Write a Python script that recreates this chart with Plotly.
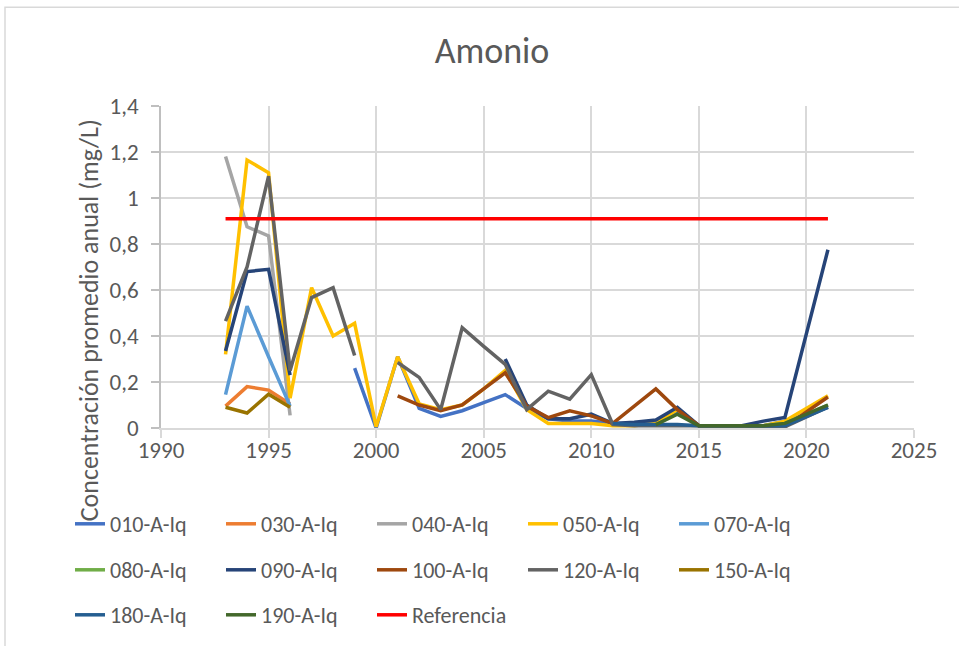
import plotly.graph_objects as go

# Sampling years (no campaign in 2020)
years = [1993, 1994, 1995, 1996, 1997, 1998, 1999, 2000, 2001, 2002,
         2003, 2004, 2005, 2006, 2007, 2008, 2009, 2010, 2011, 2012,
         2013, 2014, 2015, 2016, 2017, 2018, 2019, 2021]

N = None
s010 = [N, N, N, N, N, N, 0.26, 0.0, 0.31, 0.085,
        0.05, 0.075, 0.11, 0.145, 0.085, 0.04, 0.03, 0.03, 0.02, 0.02,
        0.02, 0.07, 0.01, 0.01, 0.01, 0.01, 0.03, 0.09]
s030 = [0.095, 0.18, 0.165, 0.105] + [N] * 24
s040 = [1.18, 0.875, 0.835, 0.055] + [N] * 24
s050 = [0.32, 1.165, 1.11, 0.13, 0.61, 0.40, 0.455, 0.005, 0.31, 0.105,
        0.08, 0.10, 0.17, 0.25, 0.08, 0.02, 0.02, 0.02, 0.01, 0.01,
        0.02, 0.08, 0.01, 0.01, 0.01, 0.01, 0.03, 0.14]
s070 = [0.145, 0.53, 0.31, 0.095] + [N] * 24
s080 = [N] * 25 + [0.01, 0.02, 0.10]
s090 = [0.335, 0.68, 0.69, 0.23, N, N, N, N, N, N,
        N, N, N, 0.30, 0.10, 0.04, 0.04, 0.06, 0.02, 0.025,
        0.035, 0.09, 0.01, 0.01, 0.01, 0.03, 0.046, 0.775]
s100 = [N, N, N, N, N, N, N, N, 0.14, 0.10,
        0.075, 0.10, 0.17, 0.24, 0.095, 0.045, 0.075, 0.053, 0.02, 0.095,
        0.17, 0.08, 0.01, 0.01, 0.01, 0.005, 0.005, 0.135]
s120 = [0.465, 0.70, 1.095, 0.25, 0.567, 0.61, 0.315, N, 0.285, 0.22,
        0.08, 0.436, 0.355, 0.277, 0.08, 0.16, 0.125, 0.232, 0.015, 0.01,
        0.01, 0.01, 0.01, 0.01, 0.01, 0.005, 0.005, 0.092]
s150 = [0.09, 0.065, 0.147, 0.09] + [N] * 24
s180 = [N] * 18 + [0.02, 0.015, 0.015, 0.015, 0.01, 0.01, 0.01, 0.01, 0.01, 0.09]
s190 = [N] * 20 + [0.015, 0.06, 0.01, 0.01, 0.01, 0.01, 0.02, 0.10]

ref_years = [1993, 2021]
ref_values = [0.91, 0.91]

series = [
    ("010-A-Iq", s010, "#4472C4", "legend"),
    ("030-A-Iq", s030, "#ED7D31", "legend"),
    ("040-A-Iq", s040, "#A5A5A5", "legend"),
    ("050-A-Iq", s050, "#FFC000", "legend"),
    ("070-A-Iq", s070, "#5B9BD5", "legend"),
    ("080-A-Iq", s080, "#70AD47", "legend2"),
    ("090-A-Iq", s090, "#264478", "legend2"),
    ("100-A-Iq", s100, "#9E480E", "legend2"),
    ("120-A-Iq", s120, "#636363", "legend2"),
    ("150-A-Iq", s150, "#997300", "legend2"),
    ("180-A-Iq", s180, "#255E91", "legend3"),
    ("190-A-Iq", s190, "#43682B", "legend3"),
]

FONT = "Carlito, Lato, sans-serif"
GREY_TXT = "#595959"
GRID = "#D9D9D9"

fig = go.Figure()
for name, vals, color, lg in series:
    fig.add_trace(go.Scatter(
        x=years, y=vals, name=name, mode="lines",
        line=dict(color=color, width=3.5),
        connectgaps=False, legend=lg,
    ))
fig.add_trace(go.Scatter(
    x=ref_years, y=ref_values, name="Referencia", mode="lines",
    line=dict(color="#FF0000", width=3.5), legend="legend3",
))

W, H = 959, 646
ML, MR, MT, MB = 161, 45, 106, 217
pw, ph = W - ML - MR, H - MT - MB


def px_x(p):
    return (p - ML) / pw


def px_y(p):
    return (H - MB - p) / ph


legend_common = dict(
    orientation="h", xanchor="left", yanchor="middle",
    font=dict(family=FONT, size=22, color=GREY_TXT),
    entrywidth=106, entrywidthmode="pixels",
    bgcolor="rgba(0,0,0,0)", borderwidth=0,
)

fig.update_layout(
    width=W, height=H,
    margin=dict(l=ML, r=MR, t=MT, b=MB),
    paper_bgcolor="white", plot_bgcolor="white",
    separators=",.",
    font=dict(family=FONT, color=GREY_TXT),
    title=dict(text="Amonio", x=492 / W, xref="container", xanchor="center",
               y=1 - 50 / H, yref="container", yanchor="middle",
               font=dict(family=FONT, size=36, color=GREY_TXT)),
    xaxis=dict(range=[1990, 2025], dtick=5, tick0=1990,
               showgrid=True, gridcolor=GRID, gridwidth=1.5,
               zeroline=False, showline=True, linecolor=GRID, linewidth=1.5,
               ticks="outside", ticklen=8, tickcolor=GRID, tickwidth=1.5,
               ticklabelstandoff=-7,
               tickfont=dict(family=FONT, size=23, color=GREY_TXT)),
    yaxis=dict(range=[0, 1.4], dtick=0.2, tick0=0,
               showgrid=True, gridcolor=GRID, gridwidth=1.5,
               zeroline=False, showline=True, linecolor="#BFBFBF", linewidth=1.5,
               ticks="outside", ticklen=8, tickcolor="#BFBFBF", tickwidth=1.5,
               ticklabelstandoff=8,
               tickfont=dict(family=FONT, size=23, color=GREY_TXT)),
    legend=dict(x=px_x(70), y=px_y(524), **legend_common),
    legend2=dict(x=px_x(70), y=px_y(570), **legend_common),
    legend3=dict(x=px_x(70), y=px_y(615), **legend_common),
    annotations=[dict(
        text="Concentración promedio anual (mg/L)", textangle=-90,
        xref="paper", yref="paper", x=px_x(89), y=px_y(321),
        xanchor="center", yanchor="middle", showarrow=False,
        font=dict(family=FONT, size=26, color=GREY_TXT),
    )],
    shapes=[dict(
        type="rect", xref="paper", yref="paper",
        x0=px_x(5), x1=px_x(965), y0=px_y(652), y1=px_y(7),
        line=dict(color="#D9D9D9", width=1.5), layer="below",
    )],
)

fig.write_html("out.html")
